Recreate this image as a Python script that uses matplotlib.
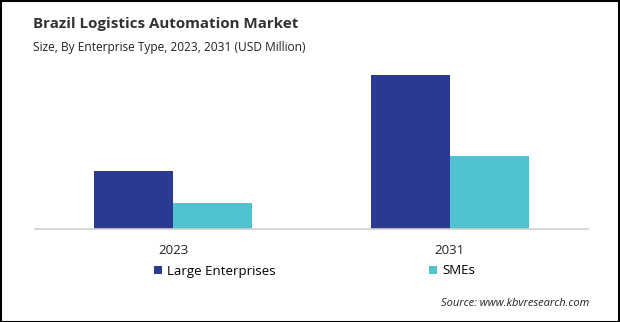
import numpy as np
import matplotlib.pyplot as plt
from matplotlib.patches import Rectangle

years = ["2023", "2031"]
large = [58, 154]
smes = [26, 73]
series_names = ["Large Enterprises", "SMEs"]

plt.rcParams['font.family'] = ['Open Sans', 'DejaVu Sans']

fig = plt.figure(figsize=(6.2, 3.22), dpi=100)
ax = fig.add_axes([35/620, 93/322, 553/620, 169/322])

x = np.arange(len(years))
w = 79/276
b1 = ax.bar(x - w/2, large, width=w, color='#2B3990', label=series_names[0])
b2 = ax.bar(x + w/2, smes, width=w, color='#4FC3CF', label=series_names[1])

ax.set_xlim(-0.5, 1.5)
ax.set_ylim(0, 169)
ax.set_yticks([])
for s in ['top', 'right', 'left']:
    ax.spines[s].set_visible(False)
ax.spines['bottom'].set_color('#d0d0d0')
ax.spines['bottom'].set_linewidth(1.2)
ax.set_xticks(x)
ax.set_xticklabels(years, fontsize=9.5, color='#222222')
ax.tick_params(axis='x', length=0, pad=11)

fig.text(33/620, 1 - 28/322, "Brazil Logistics Automation Market", fontsize=10.9,
         fontweight='bold', color='#333333', va='baseline')
fig.text(33/620, 1 - 51/322, "Size, By Enterprise Type, 2023, 2031 (USD Million)",
         fontsize=8.6, color='#222222', va='baseline')

fig.legend(handles=[b1, b2], loc='center left', bbox_to_anchor=(154/620, 1 - 271/322),
           ncol=2, frameon=False, fontsize=9.5, handlelength=0.6, handleheight=0.6,
           handletextpad=0.4, columnspacing=11.6, borderpad=0, borderaxespad=0)

fig.text(589/620, 1 - 303/322, "Source: www.kbvresearch.com", fontsize=8,
         style='italic', color='#222222', ha='right', va='center')

fig.patches.append(Rectangle((0.5/620, 0.5/322), 618.5/620, 320.5/322, transform=fig.transFigure,
                             fill=False, edgecolor='black', linewidth=1.5))

fig.savefig("out.png", dpi=100)
